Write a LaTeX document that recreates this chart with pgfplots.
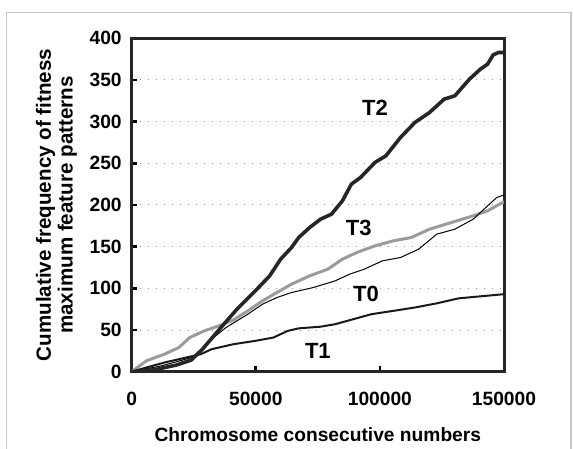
\documentclass[border=0pt]{standalone}
\usepackage{pgfplots}
\pgfplotsset{compat=1.18}
\usepackage{fontspec}
\setmainfont{Liberation Sans}

\definecolor{gridgray}{RGB}{150,150,150}
\definecolor{tthree}{RGB}{155,155,155}
\definecolor{framegray}{RGB}{200,200,200}

\begin{document}
\begin{tikzpicture}
% picture = 573x449 px at 0.5pt per px, axis box lower-left at origin
\path[use as bounding box] (-65.85pt,-38.65pt) rectangle (220.65pt,185.85pt);
\draw[framegray, line width=0.6pt] (-62.5pt,-40pt) -- (-62.5pt,179.7pt) -- (219.65pt,179.7pt) -- (219.65pt,-40pt);

\begin{axis}[
    at={(0pt,0pt)}, anchor=south west,
    scale only axis,
    width=186.15pt, height=166.7pt,
    xmin=0, xmax=150000, ymin=0, ymax=400,
    xtick={0,50000,100000,150000},
    ytick={0,50,...,400},
    scaled x ticks=false,
    xticklabel style={yshift=-6.5pt, /pgf/number format/.cd, fixed, set thousands separator={}, assume math mode=true},
    yticklabel style={xshift=-1.5pt, /pgf/number format/assume math mode=true},
    ticklabel style={font=\fontsize{9.6}{11}\selectfont\bfseries},
    tick align=inside,
    xtick pos=bottom, ytick pos=left,
    major tick length=2.6pt,
    every tick/.style={black, line width=1.4pt},
    axis line style={line width=1.5pt, black!85},
    ymajorgrids,
    major grid style={gridgray, line width=0.5pt, dash pattern=on 0.8pt off 3.2pt},
    xlabel={Chromosome consecutive numbers},
    ylabel={Cumulative frequency of fitness\\maximum feature patterns},
    ylabel style={align=center, font=\fontsize{10.3}{10.8}\selectfont\bfseries, yshift=-0.5pt},
    xlabel style={font=\fontsize{9.6}{11}\selectfont\bfseries, yshift=-4pt},
    clip=true,
]
% T3 (gray)
\addplot[tthree, line width=1.5pt] coordinates {
 (0,0) (5900,13) (13200,21) (19000,29) (23400,41) (29300,49) (35100,55)
 (41000,62) (46800,73) (52700,85) (58500,95) (64400,105) (71700,115)
 (79000,123) (84900,135) (90700,143) (98000,151) (105400,157) (112700,161)
 (120000,171) (128800,179) (137600,187) (143400,193) (150000,204)
};
% T0 (thin black)
\addplot[black, line width=0.5pt] coordinates {
 (0,0) (5000,3) (12000,7) (20500,14) (26300,19) (32200,39) (38000,53)
 (46800,69) (52700,81) (58500,89) (64400,95) (73200,101) (82000,109)
 (87800,117) (93700,123) (101000,133) (108300,137) (115600,147)
 (122900,165) (130200,171) (137600,183) (143400,199) (147100,209) (150000,212)
};
% T1 (medium black)
\addplot[black!90, line width=1pt] coordinates {
 (0,0) (5900,5) (13200,11) (20500,16) (27800,21) (32200,27) (41000,33)
 (49800,37) (57100,41) (62900,49) (67300,52) (76100,54) (82000,57)
 (89300,63) (96600,69) (105400,73) (114100,77) (122900,82) (131700,88)
 (139000,90) (150000,93)
};
% T2 (thick black)
\addplot[black!85, line width=1.8pt] coordinates {
 (0,0) (5000,1) (10200,3) (18000,8) (24000,14) (28500,27) (35100,50)
 (42400,75) (49800,97) (55600,115) (60000,135) (64400,149) (67300,161)
 (71700,173) (76100,183) (80500,189) (84900,205) (88500,225) (92200,233)
 (98000,251) (102400,259) (108300,281) (114100,299) (120000,311)
 (125900,327) (130200,331) (136100,351) (140500,363) (143400,369)
 (145600,380) (147800,383) (150000,383)
};
\node[font=\fontsize{11}{13}\selectfont\bfseries] at (axis cs:98000,317) {T2};
\node[font=\fontsize{11}{13}\selectfont\bfseries] at (axis cs:91500,172) {T3};
\node[font=\fontsize{11}{13}\selectfont\bfseries] at (axis cs:94400,93) {T0};
\node[font=\fontsize{11}{13}\selectfont\bfseries] at (axis cs:75000,25) {T1};
\end{axis}
\end{tikzpicture}
\end{document}
